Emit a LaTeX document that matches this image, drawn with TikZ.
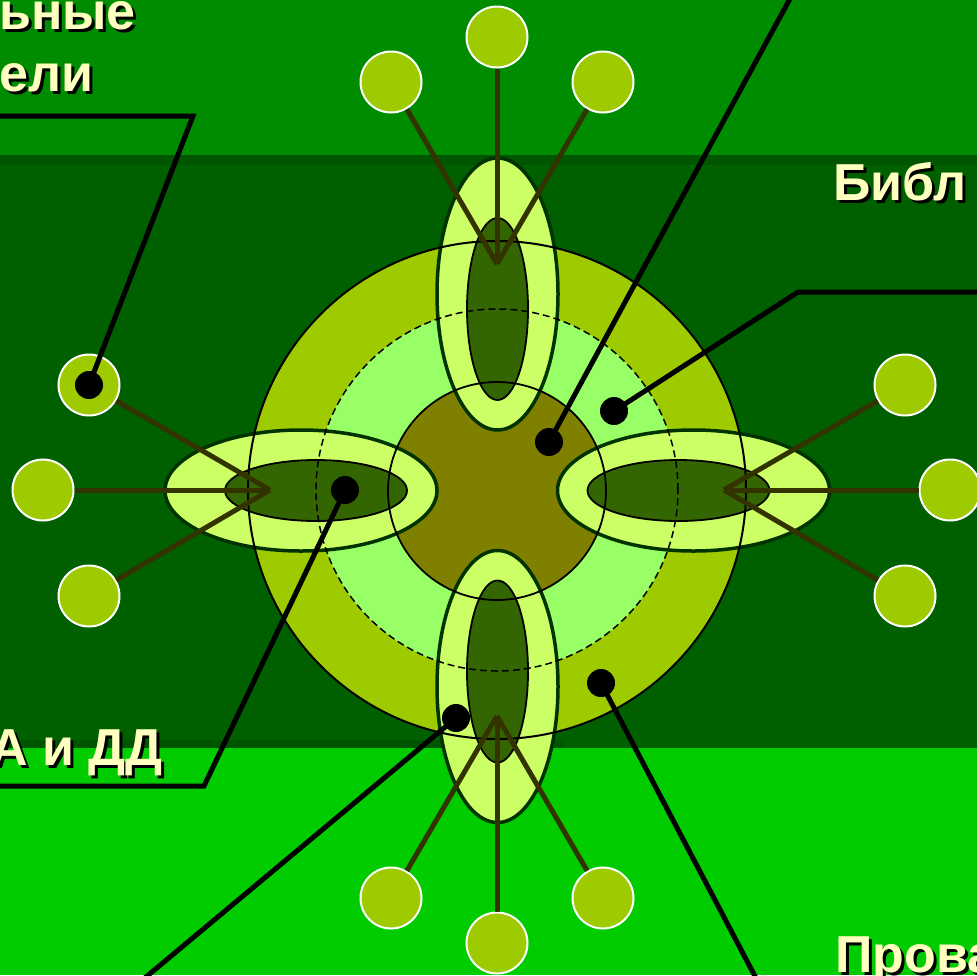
\documentclass[tikz,border=0pt]{standalone}
\usepackage{fontspec}
\setmainfont{Liberation Sans}
\usetikzlibrary{shapes.geometric}
\definecolor{topband}{RGB}{0,140,0}
\definecolor{midband}{RGB}{0,96,0}
\definecolor{stripband}{RGB}{0,86,0}
\definecolor{botband}{RGB}{0,204,0}
\definecolor{bigfill}{RGB}{158,202,0}
\definecolor{dashfill}{RGB}{153,255,102}
\definecolor{olivefill}{RGB}{128,128,0}
\definecolor{ellfill}{RGB}{204,255,102}
\definecolor{ellborder}{RGB}{0,51,0}
\definecolor{innerfill}{RGB}{51,102,0}
\definecolor{spokecol}{RGB}{51,51,0}
\definecolor{labelcol}{RGB}{255,255,192}
\newcommand{\shadowtxt}[1]{\makebox[0pt][l]{\hspace{3pt}\raisebox{-3pt}{\textcolor{black}{#1}}}#1}
\begin{document}
\begin{tikzpicture}[x=1pt,y=-1pt,
  leaf/.style={circle,minimum size=61pt,inner sep=0pt,fill=bigfill,draw=white,line width=2pt},
  outerell/.style={ellipse,inner sep=0pt,fill=ellfill,draw=ellborder,line width=3.5pt},
  innerell/.style={ellipse,inner sep=0pt,fill=innerfill,draw=black,line width=1.8pt},
  spoke/.style={draw=spokecol,line width=5pt},
  callout/.style={draw=black,line width=5pt},
  blackdot/.style={circle,fill=black,minimum size=28pt,inner sep=0pt},
  lbl/.style={font=\fontsize{52}{62}\selectfont\bfseries,inner sep=0pt,text=labelcol}
]
\useasboundingbox (0,0) rectangle (977,975);
\clip (0,0) rectangle (977,975);
% background bands
\fill[topband] (0,0) rectangle (977,156);
\fill[midband] (0,155) rectangle (977,748);
\fill[stripband] (0,155) rectangle (977,165);
\fill[stripband] (0,740) rectangle (563,748);
\fill[botband] (0,748) rectangle (977,975);
% circle fills
\fill[bigfill] (497,490) circle[radius=249pt];
\fill[dashfill] (497,490) circle[radius=181pt];
\fill[olivefill] (497,491) circle[radius=109pt];
% ellipses
\node[outerell,minimum width=121pt,minimum height=272pt] (eTo) at (497.5,294) {};
\node[innerell,minimum width=61pt,minimum height=182pt] (eTi) at (497.5,309) {};
\node[outerell,minimum width=121pt,minimum height=272pt] (eBo) at (497.5,686.5) {};
\node[innerell,minimum width=61pt,minimum height=182pt] (eBi) at (497.5,671.5) {};
\node[outerell,minimum width=272pt,minimum height=121pt] (eLo) at (301,490.5) {};
\node[innerell,minimum width=182pt,minimum height=61pt] (eLi) at (316,490.5) {};
\node[outerell,minimum width=272pt,minimum height=121pt] (eRo) at (693.5,490.5) {};
\node[innerell,minimum width=182pt,minimum height=61pt] (eRi) at (678.5,490.5) {};
% circle outlines
\draw[black,line width=2pt] (497,490) circle[radius=249pt];
\draw[black,line width=1.5pt,dash pattern=on 7pt off 4pt] (497,490) circle[radius=181pt];
\draw[black,line width=1.8pt] (497,491) circle[radius=109pt];
% hubs
\coordinate (hubT) at (497,264);
\coordinate (hubB) at (497,716);
\coordinate (hubL) at (270,490);
\coordinate (hubR) at (724,490);
% leaves
\node[leaf] (t1) at (391,82) {};
\node[leaf] (t2) at (497,37) {};
\node[leaf] (t3) at (603,82) {};
\node[leaf] (l1) at (89,385) {};
\node[leaf] (l2) at (43,490) {};
\node[leaf] (l3) at (89,596) {};
\node[leaf] (r1) at (905,385) {};
\node[leaf] (r2) at (950,490) {};
\node[leaf] (r3) at (905,596) {};
\node[leaf] (b1) at (391,898) {};
\node[leaf] (b2) at (497,943) {};
\node[leaf] (b3) at (603,898) {};
% spokes
\foreach \n in {t1,t2,t3} \draw[spoke] (hubT) -- (\n);
\foreach \n in {b1,b2,b3} \draw[spoke] (hubB) -- (\n);
\foreach \n in {l1,l2,l3} \draw[spoke] (hubL) -- (\n);
\foreach \n in {r1,r2,r3} \draw[spoke] (hubR) -- (\n);
% callouts
\node[blackdot] (d1) at (89,385) {};
\node[blackdot] (d2) at (549,442) {};
\node[blackdot] (d3) at (614,411) {};
\node[blackdot] (d4) at (345,490) {};
\node[blackdot] (d5) at (456,718) {};
\node[blackdot] (d6) at (601,683) {};
\coordinate (c1) at (193,116);
\coordinate (e1) at (-10,116);
\coordinate (e2) at (792,-5);
\coordinate (c3) at (798,292);
\coordinate (e3) at (990,292);
\coordinate (c4) at (204,786);
\coordinate (e4) at (-10,786);
\coordinate (e5) at (140,982);
\coordinate (e6) at (758,982);
\draw[callout] (d1.center) -- (c1) -- (e1);
\draw[callout] (d2.center) -- (e2);
\draw[callout] (d3.center) -- (c3) -- (e3);
\draw[callout] (d4.center) -- (c4) -- (e4);
\draw[callout] (d5.center) -- (e5);
\draw[callout] (d6.center) -- (e6);
% labels
\node[lbl,anchor=base west] (t_a) at (-1,29) {\shadowtxt{ьные}};
\node[lbl,anchor=base west] (t_b) at (-1,91) {\shadowtxt{ели}};
\node[lbl,anchor=base west] (t_c) at (833,200) {\shadowtxt{Библ}};
\node[lbl,anchor=base east] (t_d) at (163,765) {\shadowtxt{А и ДД}};
\node[lbl,anchor=base west] (t_e) at (835,972) {\shadowtxt{Прова}};
\end{tikzpicture}
\end{document}
